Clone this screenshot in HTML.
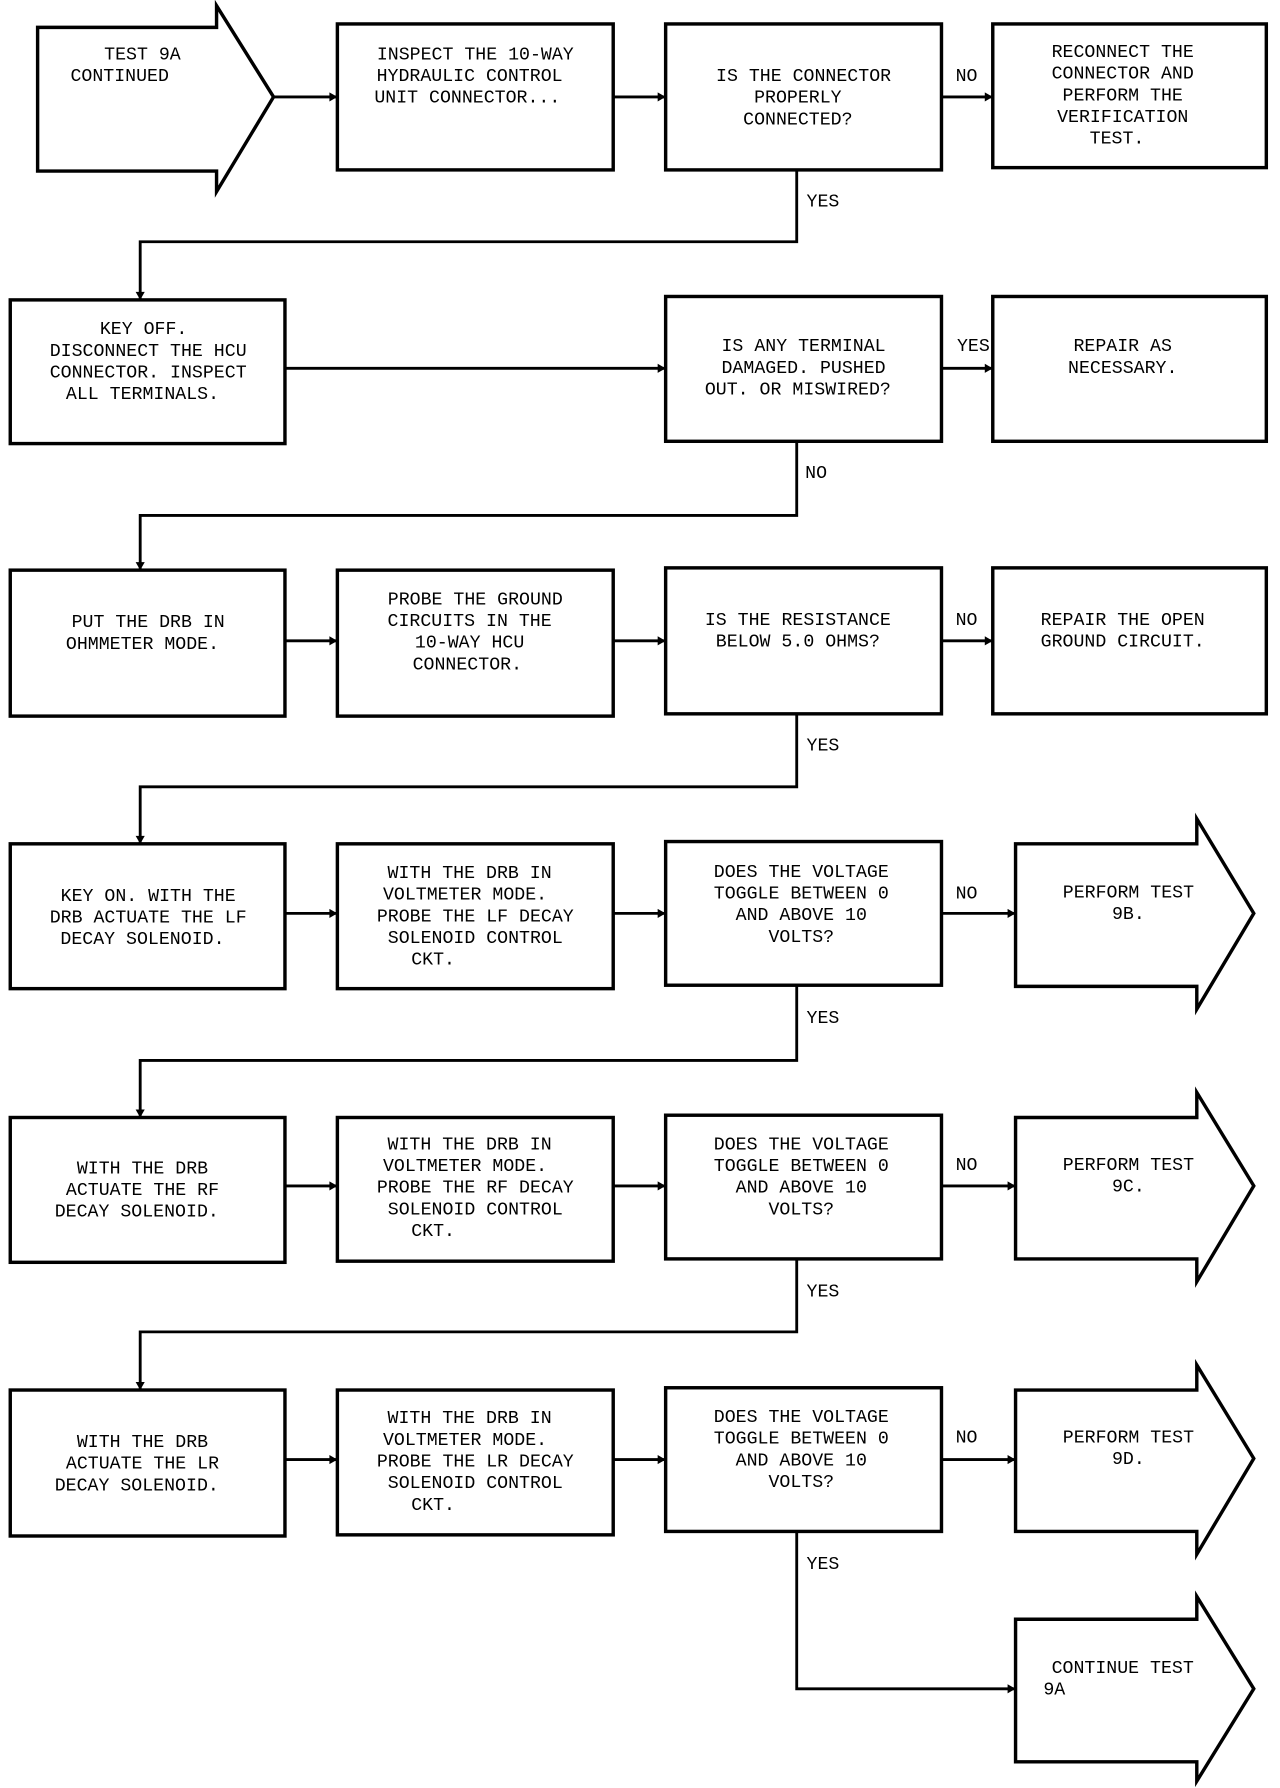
<!DOCTYPE html>
<html><head><meta charset="utf-8"><style>
html,body{margin:0;padding:0;background:#fff}
svg{display:block}
text{font-family:"Liberation Mono",monospace;font-size:16px;fill:#000;text-anchor:middle}
</style></head><body>
<svg width="1280" height="1788" viewBox="0 0 1123 1568" preserveAspectRatio="none" xmlns="http://www.w3.org/2000/svg">
<g fill="none" stroke="#000" stroke-width="3">
<!-- row1 -->
<path d="M33 24 H190 V5 L240 85 L190 168 V150 H33 Z"/>
<rect x="296" y="21" width="242" height="128"/>
<rect x="584" y="21" width="242" height="128"/>
<rect x="871" y="21" width="240" height="126"/>
<!-- row2 -->
<rect x="9" y="263" width="241" height="126"/>
<rect x="584" y="260" width="242" height="127"/>
<rect x="871" y="260" width="240" height="127"/>
<!-- row3 -->
<rect x="9" y="500" width="241" height="128"/>
<rect x="296" y="500" width="242" height="128"/>
<rect x="584" y="498" width="242" height="128"/>
<rect x="871" y="498" width="240" height="128"/>
<!-- row4 -->
<rect x="9" y="740" width="241" height="127"/>
<rect x="296" y="740" width="242" height="127"/>
<rect x="584" y="738" width="242" height="126"/>
<path d="M891 740 H1050 V718 L1100 801 L1050 885 V865 H891 Z"/>
<!-- row5 -->
<rect x="9" y="980" width="241" height="127"/>
<rect x="296" y="980" width="242" height="126"/>
<rect x="584" y="978" width="242" height="126"/>
<path d="M891 980 H1050 V958 L1100 1040 L1050 1124 V1104 H891 Z"/>
<!-- row6 -->
<rect x="9" y="1219" width="241" height="128"/>
<rect x="296" y="1219" width="242" height="127"/>
<rect x="584" y="1217" width="242" height="126"/>
<path d="M891 1219 H1050 V1197 L1100 1279 L1050 1363 V1343 H891 Z"/>
<path d="M891 1420 H1050 V1400 L1100 1481 L1050 1562 V1545 H891 Z"/>
</g>
<g fill="none" stroke="#000" stroke-width="2.5">
<path d="M240 85 H296 M538 85 H584 M826 85 H871"/>
<path d="M699 149 V212 H123 V263"/>
<path d="M250 323 H584 M826 323 H871"/>
<path d="M699 387 V452 H123 V500"/>
<path d="M250 562 H296 M538 562 H584 M826 562 H871"/>
<path d="M699 626 V690 H123 V740"/>
<path d="M250 801 H296 M538 801 H584 M826 801 H891"/>
<path d="M699 864 V930 H123 V980"/>
<path d="M250 1040 H296 M538 1040 H584 M826 1040 H891"/>
<path d="M699 1104 V1168 H123 V1219"/>
<path d="M250 1280 H296 M538 1280 H584 M826 1280 H891"/>
<path d="M699 1343 V1481 H891"/>
</g>
<g fill="#000">
<path d="M296 85 l-7 -4 v8z M584 85 l-7 -4 v8z M871 85 l-7 -4 v8z"/>
<path d="M123 263 l-4 -7 h8z M123 500 l-4 -7 h8z M123 740 l-4 -7 h8z M123 980 l-4 -7 h8z M123 1219 l-4 -7 h8z"/>
<path d="M584 323 l-7 -4 v8z M871 323 l-7 -4 v8z"/>
<path d="M296 562 l-7 -4 v8z M584 562 l-7 -4 v8z M871 562 l-7 -4 v8z"/>
<path d="M296 801 l-7 -4 v8z M584 801 l-7 -4 v8z M891 801 l-7 -4 v8z"/>
<path d="M296 1040 l-7 -4 v8z M584 1040 l-7 -4 v8z M891 1040 l-7 -4 v8z"/>
<path d="M296 1280 l-7 -4 v8z M584 1280 l-7 -4 v8z M891 1280 l-7 -4 v8z M891 1481 l-7 -4 v8z"/>
</g>
<!-- texts -->
<text x="125" y="52">TEST 9A</text><text x="105" y="71">CONTINUED</text>
<text x="417" y="52">INSPECT THE 10-WAY</text><text x="412" y="71">HYDRAULIC CONTROL</text><text x="410" y="90">UNIT CONNECTOR...</text>
<text x="705" y="71">IS THE CONNECTOR</text><text x="700" y="90">PROPERLY</text><text x="700" y="109">CONNECTED?</text>
<text x="985" y="50">RECONNECT THE</text><text x="985" y="69">CONNECTOR AND</text><text x="985" y="88">PERFORM THE</text><text x="985" y="107">VERIFICATION</text><text x="980" y="126">TEST.</text>
<text x="848" y="71">NO</text><text x="722" y="181">YES</text>
<text x="126" y="293">KEY OFF.</text><text x="130" y="312">DISCONNECT THE HCU</text><text x="130" y="331">CONNECTOR. INSPECT</text><text x="125" y="350">ALL TERMINALS.</text>
<text x="705" y="308">IS ANY TERMINAL</text><text x="705" y="327">DAMAGED. PUSHED</text><text x="700" y="346">OUT. OR MISWIRED?</text>
<text x="985" y="308">REPAIR AS</text><text x="985" y="327">NECESSARY.</text>
<text x="854" y="308">YES</text><text x="716" y="419">NO</text>
<text x="130" y="550">PUT THE DRB IN</text><text x="125" y="569">OHMMETER MODE.</text>
<text x="417" y="530">PROBE THE GROUND</text><text x="412" y="549">CIRCUITS IN THE</text><text x="412" y="568">10-WAY HCU</text><text x="410" y="587">CONNECTOR.</text>
<text x="700" y="548">IS THE RESISTANCE</text><text x="700" y="567">BELOW 5.0 OHMS?</text>
<text x="985" y="548">REPAIR THE OPEN</text><text x="985" y="567">GROUND CIRCUIT.</text>
<text x="848" y="548">NO</text><text x="722" y="658">YES</text>
<text x="130" y="790">KEY ON. WITH THE</text><text x="130" y="809">DRB ACTUATE THE LF</text><text x="125" y="828">DECAY SOLENOID.</text>
<text x="412" y="770">WITH THE DRB IN</text><text x="408" y="789">VOLTMETER MODE.</text><text x="417" y="808">PROBE THE LF DECAY</text><text x="417" y="827">SOLENOID CONTROL</text><text x="380" y="846">CKT.</text>
<text x="703" y="769">DOES THE VOLTAGE</text><text x="703" y="788">TOGGLE BETWEEN 0</text><text x="703" y="807">AND ABOVE 10</text><text x="703" y="826">VOLTS?</text>
<text x="990" y="787">PERFORM TEST</text><text x="990" y="806">9B.</text>
<text x="848" y="788">NO</text><text x="722" y="897">YES</text>
<text x="125" y="1029">WITH THE DRB</text><text x="125" y="1048">ACTUATE THE RF</text><text x="120" y="1067">DECAY SOLENOID.</text>
<text x="412" y="1008">WITH THE DRB IN</text><text x="408" y="1027">VOLTMETER MODE.</text><text x="417" y="1046">PROBE THE RF DECAY</text><text x="417" y="1065">SOLENOID CONTROL</text><text x="380" y="1084">CKT.</text>
<text x="703" y="1008">DOES THE VOLTAGE</text><text x="703" y="1027">TOGGLE BETWEEN 0</text><text x="703" y="1046">AND ABOVE 10</text><text x="703" y="1065">VOLTS?</text>
<text x="990" y="1026">PERFORM TEST</text><text x="990" y="1045">9C.</text>
<text x="848" y="1026">NO</text><text x="722" y="1137">YES</text>
<text x="125" y="1269">WITH THE DRB</text><text x="125" y="1288">ACTUATE THE LR</text><text x="120" y="1307">DECAY SOLENOID.</text>
<text x="412" y="1248">WITH THE DRB IN</text><text x="408" y="1267">VOLTMETER MODE.</text><text x="417" y="1286">PROBE THE LR DECAY</text><text x="417" y="1305">SOLENOID CONTROL</text><text x="380" y="1324">CKT.</text>
<text x="703" y="1247">DOES THE VOLTAGE</text><text x="703" y="1266">TOGGLE BETWEEN 0</text><text x="703" y="1285">AND ABOVE 10</text><text x="703" y="1304">VOLTS?</text>
<text x="990" y="1265">PERFORM TEST</text><text x="990" y="1284">9D.</text>
<text x="848" y="1265">NO</text><text x="722" y="1376">YES</text>
<text x="985" y="1467">CONTINUE TEST</text><text x="925" y="1486">9A</text>
</svg>
</body></html>
